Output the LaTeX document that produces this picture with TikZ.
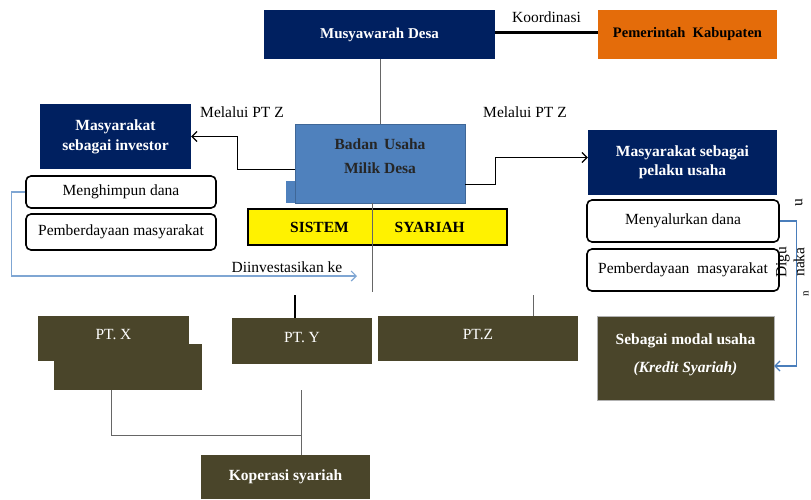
\documentclass[tikz,border=0pt]{standalone}
\usepackage{fontspec}
\setmainfont{Liberation Serif}
\usetikzlibrary{calc, arrows.meta}

\begin{document}
\begin{tikzpicture}[x=1pt, y=-1pt,
    node font=\fontsize{15.5}{18}\selectfont,
    >={Straight Barb[length=5pt, width=10pt]},
    navybox/.style={fill=navyColour, text=white, font=\bfseries, align=center, inner sep=0pt},
    olivebox/.style={fill=oliveColour, text=white, align=center, inner sep=0pt},
    roundbox/.style={draw=black, fill=white, rounded corners=5pt, line width=1.6pt, inner sep=0pt},
    blueline/.style={draw=lineBlue, line width=1.2pt},
    thinline/.style={draw=gray!80!black, line width=0.8pt}]

    \definecolor{navyColour}{HTML}{002060}
    \definecolor{orangeColour}{HTML}{E46C0A}
    \definecolor{bumdesColour}{HTML}{4F81BD}
    \definecolor{oliveColour}{HTML}{4A452A}
    \definecolor{lineBlue}{HTML}{7FA6D3}
    \definecolor{lineBlueDark}{HTML}{4A7EBB}

    % Page size
    \useasboundingbox (0,0) rectangle (811,499);

    % Top row
    \node[navybox, font=\fontsize{15}{18}\selectfont\bfseries, minimum width=231pt, minimum height=49pt] (musdes) at (379.5,34.5) {Musyawarah Desa};
    \node[fill=orangeColour, font=\fontsize{14.5}{17}\selectfont\bfseries, inner sep=0pt, minimum width=179pt, minimum height=49pt] (pemkab) at (687.5,34.5) {Pemerintah\ \ Kabupaten};
    \draw[line width=2.5pt] ([yshift=2pt]musdes.east) -- ([yshift=2pt]pemkab.west)
        node[midway, above=3pt] (koord) {Koordinasi};

    % BUMDes and sistem syariah
    \fill[bumdesColour] (286,181) rectangle (300,203);
    \node[fill=bumdesColour, draw=bumdesColour!80!black, font=\bfseries, text=black!85, align=center,
          inner sep=0pt, minimum width=170pt, minimum height=79pt, text depth=14pt] (badan) at (380,163.5)
          {Badan\ \,Usaha\\[6pt]Milik Desa};
    \node[draw=black, line width=1.2pt, fill=yellow, font=\bfseries, inner sep=0pt,
          minimum width=259pt, minimum height=36pt] (sistem) at (377.5,227) {SISTEM\hspace{46pt}SYARIAH};
    \draw[thinline] (musdes.south -| badan.north) -- (badan.north);
    \coordinate (spineEnd) at (372,292);
    \draw[thinline] (badan.south -| spineEnd) -- (spineEnd);

    % Left side
    \node[navybox, minimum width=151pt, minimum height=65pt] (investor) at (115.5,136.5) {Masyarakat\\[2pt]sebagai investor};
    \node[roundbox, minimum width=190pt, minimum height=32pt] (himpun) at (121,192) {Menghimpun dana};
    \node[roundbox, minimum width=190pt, minimum height=36pt] (berdayaL) at (121,232) {Pemberdayaan masyarakat};
    \draw[line width=1.2pt, ->] ([yshift=-6pt]badan.west) -- ++(-57,0) |- (investor.east);
    \node (viaL) at (242,112) {Melalui PT Z};
    \coordinate (investTip) at (357,276);
    \draw[blueline, ->] (himpun.west) -- ++(-14,0) |- (investTip);
    \node (invest) at (287,267) {Diinvestasikan ke};

    % Right side
    \node[navybox, minimum width=189pt, minimum height=65pt] (pelaku) at (682.5,162.5) {Masyarakat sebagai\\[1pt]pelaku usaha};
    \node[roundbox, minimum width=192pt, minimum height=42pt] (salur) at (683,221) {Menyalurkan dana};
    \node[roundbox, minimum width=192pt, minimum height=42pt] (berdayaR) at (683,270) {Pemberdayaan\ \ masyarakat};
    \draw[line width=1.2pt, ->] ([yshift=-21pt]badan.east) -- ++(30,0) |- ([yshift=5pt]pelaku.west);
    \node (viaR) at (525,112) {Melalui PT Z};
    \node[olivebox, font=\bfseries, draw=gray!60, minimum width=177pt, minimum height=84pt, text depth=10pt] (modal) at (685.5,358)
        {Sebagai\ modal\ usaha\\[10pt]\textit{(Kredit Syariah)}};
    \draw[draw=lineBlueDark, line width=1.2pt, ->] (salur.east) -- ++(17,0) |- ([yshift=-8pt]modal.east);

    % Vertical text beside the right boxes
    \node[rotate=90, inner sep=0pt] (digu) at (783,262) {Digu};
    \node[rotate=90, inner sep=0pt] (naka) at (799,262) {naka};
    \node[rotate=90, inner sep=0pt, font=\fontsize{11}{13}\selectfont] (nEnd) at (806,294) {n};
    \node[rotate=90, inner sep=0pt] (uTop) at (799,203) {u};

    % Companies
    \node[olivebox, minimum width=148pt, minimum height=46pt] (ptxlow) at (128,367) {};
    \node[olivebox, minimum width=151pt, minimum height=45pt, text depth=8pt] (ptx) at (113.5,338.5) {PT. X};
    \node[olivebox, minimum width=140pt, minimum height=46pt, text depth=8pt] (pty) at (302,341) {PT. Y};
    \node[olivebox, minimum width=200pt, minimum height=45pt, text depth=8pt] (ptz) at (478,338.5) {PT.Z};
    \coordinate (ptyTop) at (295,295);
    \coordinate (ptzTop) at (533,295);
    \draw[line width=1.2pt] (ptyTop) -- (ptyTop |- pty.north);
    \draw[thinline] (ptzTop) -- (ptzTop |- ptz.north);

    % Cooperative
    \node[olivebox, font=\bfseries, minimum width=169pt, minimum height=44pt] (koperasi) at (285.5,477) {Koperasi syariah};
    \coordinate (merge) at (301,435);
    \draw[thinline] ($(ptxlow.south west)!0.39!(ptxlow.south east)$) |- (merge);
    \draw[thinline] ([yshift=-26pt]pty.south -| merge) -- (koperasi.north -| merge);

\end{tikzpicture}
\end{document}
